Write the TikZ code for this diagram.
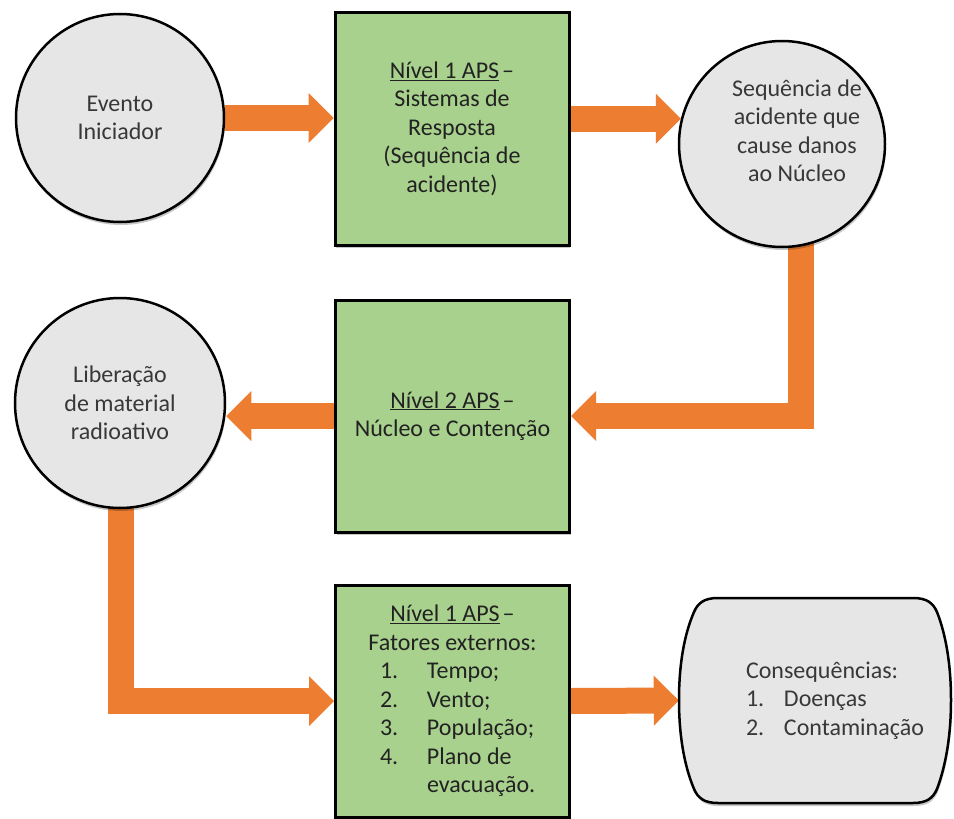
\documentclass[tikz,border=0pt]{standalone}
\usepackage{fontspec}
\setmainfont{Carlito}
\usetikzlibrary{arrows.meta,backgrounds,shadows}
\definecolor{flowgreen}{HTML}{A9D18E}
\definecolor{flowgray}{HTML}{E7E6E6}
\definecolor{floworange}{HTML}{ED7D31}
\definecolor{boxink}{HTML}{222222}
\definecolor{circleink}{HTML}{383838}
% one numbered line of a list: number column, then the item text
\newcommand{\listline}[3]{\makebox[#1][l]{\hspace{27.5pt}\makebox[47pt][l]{#2}#3}}
\begin{document}
\begin{tikzpicture}[x=1pt,y=-1pt,
  every node/.style={font=\fontsize{24}{28.5}\selectfont},
  softshadow/.style={drop shadow={shadow xshift=1pt,shadow yshift=-3pt,opacity=0.22,fill=black}},
  event/.style={circle,draw=black,line width=2.5pt,fill=flowgray,minimum size=#1,
    inner sep=0pt,align=center,text=circleink,softshadow},
  stage/.style={rectangle,draw=black,line width=3pt,fill=flowgreen,minimum width=234,
    minimum height=#1,inner sep=0pt,align=center,text=boxink,softshadow},
  flow/.style={draw=floworange,line width=26pt,line join=miter,
    -{Triangle[length=25pt,width=50pt,line width=0pt]}}]
\useasboundingbox (0,0) rectangle (954,819);

% row 1
\node[event=208] (c1) at (120,118) {Evento\\Iniciador};
\node[stage=233] (b1) at (452,128.5)
  {\underline{Nível 1 APS}\hspace{3pt}–\\Sistemas de\\Resposta\\(Sequência de\\acidente)};
\node[event=206] (c2) at (782,144) {};
\node[align=center,inner sep=0pt,text=circleink] (c2text)
  at ([xshift=15pt,yshift=13pt]c2.center)
  {Sequência de\\acidente que\\cause danos\\ao Núcleo};

% row 2
\node[event=210] (c3) at (120,403) {Liberação\\de material\\radioativo};
\node[stage=232] (b2) at (452.5,416)
  {\underline{Nível 2 APS}\hspace{3pt}–\\Núcleo e Contenção};

% row 3
\node[stage=232] (b3) at (452.5,701)
  {\underline{Nível 1 APS}\hspace{3pt}–\\Fatores externos:\\
   \listline{200pt}{1.}{Tempo;}\\
   \listline{200pt}{2.}{Vento;}\\
   \listline{200pt}{3.}{População;}\\
   \listline{200pt}{4.}{Plano de}\\
   \listline{200pt}{}{evacuação.}};

% consequences: a box with bowed sides
\draw[black,line width=2.5pt,fill=flowgray,softshadow]
  (718,598) -- (913,598)
  .. controls (927,598) and (933,603) .. (937,612)
  .. controls (946,635) and (951,665) .. (951,700)
  .. controls (951,735) and (946,765) .. (937,789)
  .. controls (933,798) and (927,803) .. (913,803)
  -- (718,803)
  .. controls (704,803) and (698,798) .. (694,789)
  .. controls (684,765) and (679,735) .. (679,700)
  .. controls (679,665) and (684,635) .. (694,612)
  .. controls (698,603) and (704,598) .. (718,598) -- cycle;
\node[minimum width=272,minimum height=205,inner sep=0pt] (cons) at (815,700.5) {};
\node[anchor=west,inner sep=0pt,align=left,text=circleink] (consText)
  at ([xshift=67pt]cons.west)
  {Consequências:\\\makebox[38pt][l]{1.}Doenças\\\makebox[38pt][l]{2.}Contaminação};

% orange flow arrows, kept behind the shapes
\begin{scope}[on background layer]
  \draw[flow] (c1.east) -- (c1.east -| b1.west);
  \draw[flow] (b1.east |- c2.166) -- (c2.166);
  \draw[flow] ([xshift=19pt]c2.center) |- (b2.east);
  \draw[flow] (b2.west) -- (c3.east |- b2.west);
  \draw[flow] ([xshift=1pt]c3.center) |- (b3.west);
  \draw[flow] (b3.east) -- (cons.west);
\end{scope}
\end{tikzpicture}
\end{document}
